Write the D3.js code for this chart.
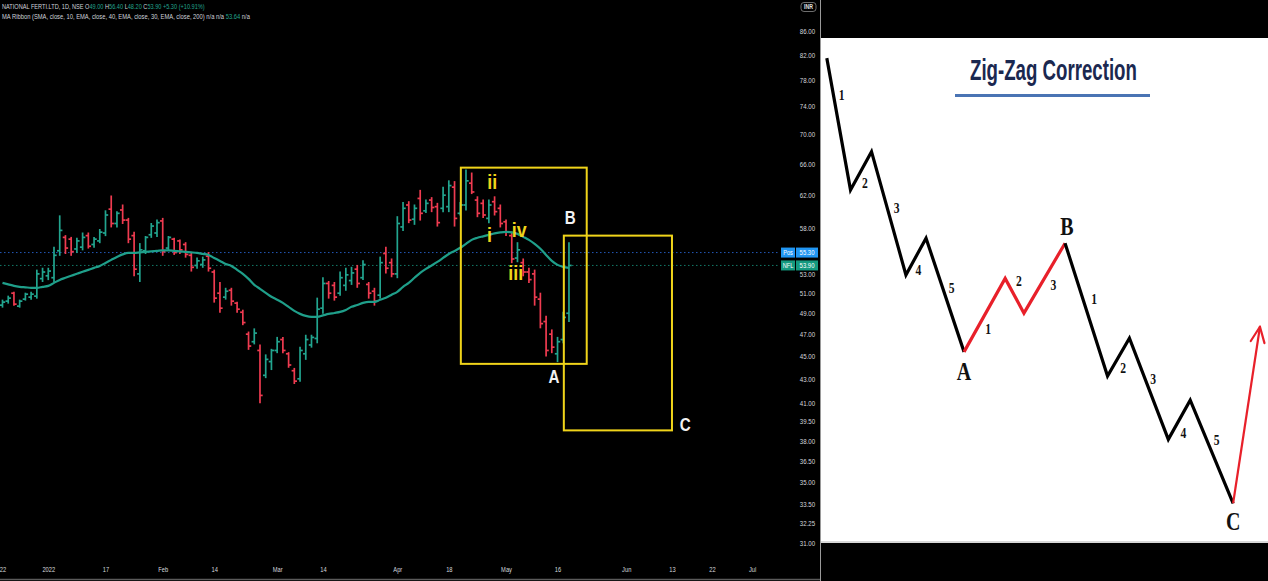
<!DOCTYPE html>
<html><head><meta charset="utf-8">
<script src="https://cdn.jsdelivr.net/npm/d3@7"></script>
<style>html,body{margin:0;padding:0;background:#000;overflow:hidden}svg{display:block}</style>
</head><body>
<svg id="c" width="1268" height="581"></svg>
<script>
// ---------- DATA : NATIONAL FERTI.LTD daily OHLC (bar index 0 = 22 Dec 2021) ----------
const opens  = [49.8,50.2,51.0,49.7,50.4,50.6,50.7,52.5,52.8,52.6,55.5,57.0,56.8,55.7,55.9,57.2,56.2,56.6,57.5,60.3,58.6,60.2,59.0,57.2,53.0,55.5,57.3,57.5,58.9,55.8,56.8,56.6,56.2,55.0,53.9,54.0,54.9,53.2,51.0,50.6,51.3,50.0,49.1,47.0,46.3,45.5,43.3,44.5,45.5,46.5,45.2,43.7,43.0,45.2,46.0,46.6,49.5,52.0,51.8,51.0,51.8,52.3,53.5,52.6,51.9,51.2,50.8,55.2,54.2,53.0,58.2,60.8,59.1,61.6,60.1,61.4,60.6,60.4,60.6,63.0,59.8,60.8,63.5,61.4,61.0,59.2,61.2,60.4,58.8,57.2,54.7,54.2,53.2,53.0,50.4,48.2,47.0,45.2,46.5,49.0];
const highs  = [50.3,50.7,51.1,50.3,51.0,51.1,53.4,53.6,53.6,55.9,59.5,57.2,57.0,56.9,57.5,57.5,57.0,57.9,60.1,61.9,60.0,60.8,59.2,57.6,56.3,57.1,58.6,59.0,59.2,57.1,56.9,56.7,56.4,55.3,54.7,54.8,55.3,53.4,52.1,51.5,51.5,50.1,49.3,47.2,47.5,46.0,45.1,45.6,46.7,46.7,45.3,43.9,45.8,46.9,46.9,50.5,52.6,52.2,52.1,53.2,53.6,53.7,53.9,54.4,52.1,51.5,54.8,55.9,54.6,59.4,61.1,61.2,60.8,62.6,61.4,61.7,61.0,63.0,63.8,63.7,61.1,65.2,64.8,61.8,61.4,61.4,61.8,60.8,59.0,57.6,56.4,54.6,53.6,53.4,51.0,48.7,47.4,46.7,49.1,56.4];
const lows   = [49.6,50.0,49.8,49.6,50.3,50.4,50.5,52.2,52.4,52.2,55.0,55.2,55.0,55.3,55.6,55.8,55.9,56.4,57.2,58.2,58.2,58.6,56.4,52.8,52.2,55.2,57.0,57.1,55.0,55.6,55.1,55.2,54.8,53.3,53.6,53.7,53.3,50.1,49.1,50.4,49.8,49.1,47.9,45.6,46.1,41.0,43.1,43.8,45.3,45.3,44.0,42.6,42.8,44.7,45.8,46.2,49.0,50.5,50.3,50.8,51.3,51.9,51.6,52.4,50.5,49.8,50.5,53.1,52.7,52.6,57.8,58.7,58.5,59.0,59.9,60.0,58.3,60.0,60.0,58.3,59.6,60.2,62.2,59.4,59.3,58.7,59.6,58.2,57.2,54.2,54.3,52.8,52.1,49.8,47.6,45.0,45.3,44.5,46.2,48.2];
const closes = [50.1,50.5,49.9,50.2,50.9,50.9,53.0,53.2,53.3,55.0,57.8,55.8,55.4,56.6,57.0,56.0,56.8,57.6,59.6,58.6,59.8,59.0,56.8,53.5,55.6,57.0,58.3,58.7,55.4,57.0,55.3,55.6,55.1,53.7,54.4,54.5,53.6,50.5,49.5,51.2,50.2,49.4,48.1,45.9,47.1,41.6,44.7,45.5,46.3,45.5,44.2,42.8,45.5,46.5,46.7,49.4,52.0,51.0,50.6,52.6,52.9,53.1,52.0,54.0,51.0,50.2,54.2,53.6,53.0,58.6,60.4,59.0,60.4,59.8,61.0,60.5,58.7,62.0,63.2,59.2,60.8,63.8,62.4,59.8,59.6,60.8,60.0,58.6,57.6,54.6,55.6,53.2,52.4,50.6,48.0,45.5,45.8,46.3,48.6,53.9];
// moving average (EMA 30), one value per bar
const maValues = [52.06,51.91,51.75,51.65,51.60,51.55,51.55,51.65,51.75,52.06,52.37,52.59,52.80,53.01,53.22,53.43,53.64,53.85,54.17,54.50,54.82,55.10,55.26,55.26,55.32,55.37,55.43,55.48,55.54,55.54,55.48,55.43,55.37,55.32,55.26,55.15,55.04,54.71,54.39,54.06,53.85,53.43,53.01,52.48,51.86,51.45,51.04,50.64,50.34,50.02,49.63,49.23,48.94,48.74,48.65,48.65,48.79,48.94,49.03,49.13,49.33,49.63,49.82,50.02,50.12,50.12,50.34,50.54,50.84,51.14,51.65,52.06,52.59,53.11,53.53,53.90,54.28,54.71,55.15,55.48,55.83,56.27,56.72,56.95,57.12,57.29,57.46,57.57,57.63,57.57,57.40,57.06,56.72,56.27,55.72,55.04,54.39,53.96,53.74,53.64];
const priceTicks = [86,82,78,74,70,66,62,58,53,51,49,47,45,43,41,39.5,38,36.5,35,33.5,32.25,31];
const timeTickIdx    = [0,8,18,28,37,48,56,69,78,88,97,109,117,124,131];
const timeTickLabels = ["22","2022","17","Feb","14","Mar","14","Apr","18","May","16","Jun","13","22","Jul"];
const posPrice = 55.30, lastPrice = 53.90;
// annotation boxes (bar index / price)
const boxIdxFrom = [80.1, 98.1], boxIdxTo = [102.1, 117.0];
const boxTop = [65.5, 57.2], boxBottom = [44.3, 38.8];
// wave labels on the chart
const waveText  = ["ii","i","iv","iii","A","B","C"];
const waveIdx   = [85.6, 85.1, 90.3, 89.7, 96.4, 99.2, 119.3];
const wavePrice = [63.7, 57.3, 57.9, 53.2, 43.2, 59.3, 39.3];
// Zig-Zag schematic (x 0..100 across panel, level 0..100 bottom..top)
const zzX     = [1.3, 6.6, 11.3, 19.0, 23.5, 32.0, 41.2, 45.4, 54.6, 64.1, 69.0, 77.7, 82.6, 92.2];
const zzLevel = [96.0, 69.8, 77.4, 52.9, 60.2, 37.6, 52.2, 45.3, 59.2, 32.8, 40.3, 20.2, 28.0, 7.5];
const zzArrowTip = [98.2, 42.6];
const zzLabelText  = ["1","2","3","4","5","A","1","2","3","B","1","2","3","4","5","C"];
const zzLabelX     = [4.6, 9.8, 16.9, 21.8, 29.2, 32.0, 37.4, 44.3, 52.0, 55.0, 61.1, 67.6, 74.3, 81.1, 88.5, 92.2];
const zzLabelLevel = [88.7, 71.1, 66.1, 53.9, 50.2, 33.7, 42.1, 51.6, 50.9, 62.5, 48.2, 34.3, 32.3, 21.5, 20.1, 3.8];

// ---------- DRAW ----------
const W = 1268, H = 581;
const green = "#22a58f", red = "#ef3b50", yellow = "#f0d41a";
const svg = d3.select("#c");
svg.append("rect").attr("width", W).attr("height", H).attr("fill", "#000");

const x = d3.scaleLinear().domain([0, 131]).range([2.5, 2.5 + 131 * 5.722]);
const y = d3.scaleLog().domain([31, 86]).range([543, 31]);

svg.append("defs").append("clipPath").attr("id", "plot")
  .append("rect").attr("x", 0).attr("y", 0).attr("width", 779).attr("height", 560);
const plot = svg.append("g").attr("clip-path", "url(#plot)");

// price lines
plot.append("line").attr("x1", 0).attr("x2", 781).attr("y1", y(posPrice)).attr("y2", y(posPrice))
  .attr("stroke", "#2458b8").attr("stroke-width", 1).attr("stroke-dasharray", "1.5,2.5");
plot.append("line").attr("x1", 0).attr("x2", 781).attr("y1", y(lastPrice)).attr("y2", y(lastPrice))
  .attr("stroke", "#137a68").attr("stroke-width", 1).attr("stroke-dasharray", "1.5,2.5");

// OHLC bars
const bars = opens.map((o, i) => ({ i, o, h: highs[i], l: lows[i], c: closes[i] }));
const bg = plot.selectAll("g.bar").data(bars).join("g").attr("class", "bar")
  .attr("stroke", d => d.c >= d.o ? green : red).attr("stroke-width", 1.7);
bg.append("line").attr("x1", d => x(d.i)).attr("x2", d => x(d.i))
  .attr("y1", d => y(d.h) - 0.5).attr("y2", d => y(d.l) + 0.5);
bg.append("line").attr("x1", d => x(d.i) - 2.7).attr("x2", d => x(d.i))
  .attr("y1", d => y(d.o)).attr("y2", d => y(d.o));
bg.append("line").attr("x1", d => x(d.i)).attr("x2", d => x(d.i) + 2.7)
  .attr("y1", d => y(d.c)).attr("y2", d => y(d.c));

// MA line
plot.append("path").datum(maValues)
  .attr("d", d3.line().x((d, i) => x(i)).y(d => y(d)).curve(d3.curveMonotoneX))
  .attr("fill", "none").attr("stroke", "#1f9f8a").attr("stroke-width", 2.2);

// boxes
boxIdxFrom.forEach((f, k) => {
  plot.append("rect").attr("x", x(f)).attr("y", y(boxTop[k]))
    .attr("width", x(boxIdxTo[k]) - x(f)).attr("height", y(boxBottom[k]) - y(boxTop[k]))
    .attr("fill", "none").attr("stroke", yellow).attr("stroke-width", 2);
});

// wave labels
waveText.forEach((t, k) => {
  const isRoman = k < 4;
  plot.append("text").text(t)
    .attr("transform", `translate(${x(waveIdx[k])},${y(wavePrice[k])}) scale(${isRoman ? 0.85 : 0.8},1)`)
    .attr("text-anchor", "middle").attr("dominant-baseline", "central")
    .attr("font-family", "Liberation Sans, Arial, sans-serif")
    .attr("font-size", isRoman ? 21 : 19).attr("font-weight", "bold")
    .attr("fill", isRoman ? yellow : "#f2f2f2");
});

// price axis
const yAxisG = svg.append("g").attr("transform", "translate(799,0)")
  .call(d3.axisRight(y).tickValues(priceTicks).tickSize(0).tickPadding(1).tickFormat(d => d.toFixed(2)));
yAxisG.select(".domain").remove();
yAxisG.selectAll("text").attr("fill", "#d6d8de").attr("font-size", 7.2)
  .attr("font-family", "Liberation Sans, Arial, sans-serif").attr("transform", "scale(0.85,1)");

// last price / position labels
function priceTag(price, name, color) {
  const yy = y(price);
  svg.append("rect").attr("x", 781).attr("y", yy - 5).attr("width", 14).attr("height", 10).attr("fill", color);
  svg.append("rect").attr("x", 796).attr("y", yy - 5).attr("width", 22).attr("height", 10).attr("fill", color);
  svg.append("text").text(name).attr("transform", `translate(788,${yy}) scale(0.8,1)`)
    .attr("text-anchor", "middle").attr("dominant-baseline", "central")
    .attr("font-family", "Liberation Sans, Arial, sans-serif").attr("font-size", 7).attr("fill", "#fff");
  svg.append("text").text(price.toFixed(2)).attr("transform", `translate(807,${yy}) scale(0.85,1)`)
    .attr("text-anchor", "middle").attr("dominant-baseline", "central")
    .attr("font-family", "Liberation Sans, Arial, sans-serif").attr("font-size", 7).attr("fill", "#fff");
}
priceTag(posPrice, "Pos", "#2196f3");
priceTag(lastPrice, "NFL", "#14997f");

// currency label
svg.append("rect").attr("x", 801).attr("y", 2.5).attr("width", 15).attr("height", 9).attr("rx", 3)
  .attr("fill", "none").attr("stroke", "#8a8a8a").attr("stroke-width", 0.8);
svg.append("text").text("INR").attr("transform", "translate(808.5,7.2) scale(0.8,1)")
  .attr("text-anchor", "middle").attr("dominant-baseline", "central")
  .attr("font-family", "Liberation Sans, Arial, sans-serif").attr("font-size", 6.5).attr("font-weight", "bold").attr("fill", "#e0e0e0");

// time axis
const xAxisG = svg.append("g").attr("transform", "translate(0,565)")
  .call(d3.axisBottom(x).tickValues(timeTickIdx).tickSize(0).tickPadding(2).tickFormat((d, k) => timeTickLabels[k]));
xAxisG.select(".domain").remove();
xAxisG.selectAll("text").attr("fill", "#d6d8de").attr("font-size", 7.2)
  .attr("font-family", "Liberation Sans, Arial, sans-serif").attr("transform", "scale(0.8,1)");

// header legend
function legendLine(parts, yy, targetW) {
  const t = svg.append("text").attr("x", 0).attr("y", yy)
    .attr("font-family", "Liberation Sans, Arial, sans-serif").attr("font-size", 7.4);
  parts.forEach(p => t.append("tspan").text(p[0]).attr("fill", p[1]));
  const w = t.node().getComputedTextLength();
  t.attr("transform", `translate(2,0) scale(${targetW / w},1)`);
}
const lg = "#d1d4dc";
legendLine([["NATIONAL FERTI.LTD, 1D, NSE  ", lg], ["O", lg], ["49.00", green], [" H", lg], ["56.40", green],
  [" L", lg], ["48.20", green], [" C", lg], ["53.90", green], [" +5.30 (+10.91%)", green]], 8.6, 203);
legendLine([["MA Ribbon (SMA, close, 10, EMA, close, 40, EMA, close, 30, EMA, close, 200)  n/a  n/a  ", lg],
  ["53.64", green], ["  n/a", lg]], 19, 248);

// borders
svg.append("line").attr("x1", 820.5).attr("x2", 820.5).attr("y1", 0).attr("y2", H).attr("stroke", "#9a9a9a").attr("stroke-width", 1);
svg.append("line").attr("x1", 0).attr("x2", 820).attr("y1", 579.5).attr("y2", 579.5).attr("stroke", "#5a5a5a").attr("stroke-width", 1.5);

// ---------- Zig-Zag schematic panel ----------
const zx = d3.scaleLinear().domain([0, 100]).range([821, 1268]);
const zy = d3.scaleLinear().domain([0, 100]).range([541, 38]);
const zp = svg.append("g");
zp.append("rect").attr("x", zx(0)).attr("y", zy(100)).attr("width", zx(100) - zx(0)).attr("height", zy(0) - zy(100)).attr("fill", "#fff");
zp.append("line").attr("x1", zx(0)).attr("x2", zx(100)).attr("y1", zy(0) + 1).attr("y2", zy(0) + 1).attr("stroke", "#d8d8d8").attr("stroke-width", 2);

const title = zp.append("text").text("Zig-Zag Correction")
  .attr("font-family", "Liberation Sans, Arial, sans-serif").attr("font-size", 29).attr("font-weight", "bold")
  .attr("fill", "#1b2850").attr("x", 0).attr("y", 0);
const tw = title.node().getComputedTextLength();
title.attr("transform", `translate(970,80) scale(${167 / tw},1)`);
zp.append("line").attr("x1", 955).attr("x2", 1150).attr("y1", 95.5).attr("y2", 95.5).attr("stroke", "#4a74b4").attr("stroke-width", 3);

const pts = zzX.map((v, i) => [zx(v), zy(zzLevel[i])]);
const zline = d3.line();
zp.append("path").attr("d", zline(pts.slice(0, 6))).attr("fill", "none").attr("stroke", "#000").attr("stroke-width", 3.2).attr("stroke-linejoin", "miter");
zp.append("path").attr("d", zline(pts.slice(5, 9))).attr("fill", "none").attr("stroke", "#e8202a").attr("stroke-width", 3.2);
zp.append("path").attr("d", zline(pts.slice(8, 14))).attr("fill", "none").attr("stroke", "#000").attr("stroke-width", 3.2).attr("stroke-linejoin", "miter");
const tip = [zx(zzArrowTip[0]), zy(zzArrowTip[1])];
const cpt = pts[13];
zp.append("line").attr("x1", cpt[0]).attr("y1", cpt[1]).attr("x2", tip[0]).attr("y2", tip[1]).attr("stroke", "#e8202a").attr("stroke-width", 2.2);
const ang = Math.atan2(tip[1] - cpt[1], tip[0] - cpt[0]);
[-0.42, 0.42].forEach(da => {
  const a = ang + Math.PI + da;
  zp.append("line").attr("x1", tip[0]).attr("y1", tip[1])
    .attr("x2", tip[0] + 17 * Math.cos(a)).attr("y2", tip[1] + 17 * Math.sin(a))
    .attr("stroke", "#e8202a").attr("stroke-width", 2.2).attr("stroke-linecap", "round");
});

zzLabelText.forEach((t, k) => {
  const big = /[ABC]/.test(t);
  zp.append("text").text(t)
    .attr("transform", `translate(${zx(zzLabelX[k])},${zy(zzLabelLevel[k])}) scale(0.8,1)`)
    .attr("text-anchor", "middle").attr("dominant-baseline", "central")
    .attr("font-family", "Liberation Serif, Times New Roman, serif").attr("font-weight", "bold")
    .attr("font-size", big ? 25 : 14.5).attr("fill", "#111");
});
</script>
</body></html>
